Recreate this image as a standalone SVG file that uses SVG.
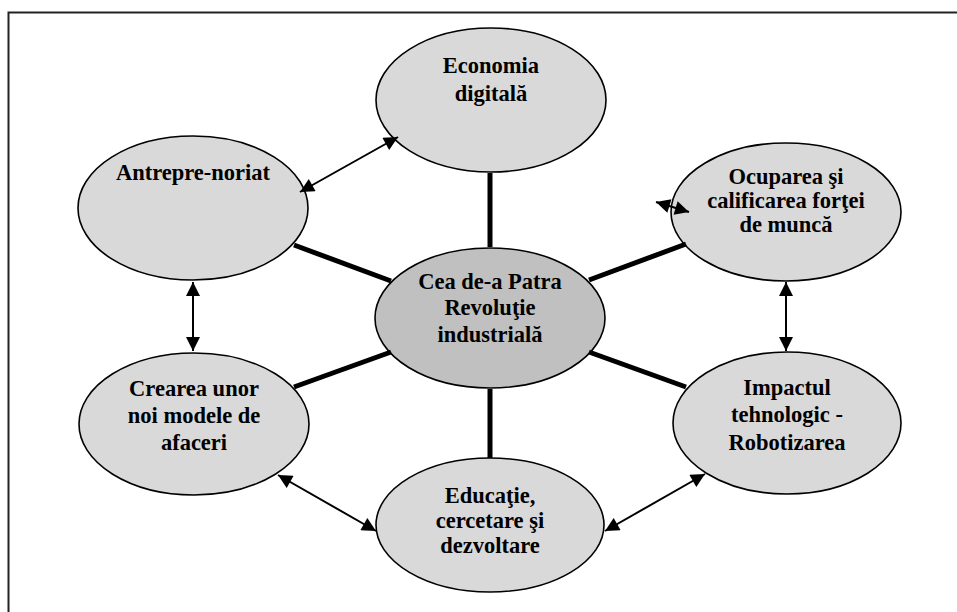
<svg xmlns="http://www.w3.org/2000/svg" width="957" height="612" viewBox="0 0 957 612">
<style>
.node ellipse{fill:#d9d9d9;stroke:#000;stroke-width:1.6}
#center ellipse{fill:#c0c0c0}
.node text{font-family:"Liberation Serif","Times New Roman",serif;font-weight:bold;font-size:22.5px;text-anchor:middle;fill:#000}
.spoke{stroke:#000;stroke-width:5;fill:none}
.arrow{stroke:#000;stroke-width:2;fill:none;marker-start:url(#ah);marker-end:url(#ah)}
</style>
<defs>
<marker id="ah" viewBox="0 0 10 10" refX="10" refY="5" markerUnits="userSpaceOnUse" markerWidth="16" markerHeight="14" orient="auto-start-reverse">
<path d="M0,0 L10,5 L0,10 z" fill="#000"/>
</marker>
</defs>
<rect x="8.5" y="12.5" width="960" height="610" fill="#fff" stroke="#222" stroke-width="2"/>
<g id="economia" class="node">
<ellipse cx="491" cy="100" rx="115" ry="72"/>
<text x="491" y="73">Economia</text>
<text x="491" y="101">digitală</text>
</g>
<g id="antreprenoriat" class="node">
<ellipse cx="193" cy="208" rx="115" ry="72"/>
<text x="193" y="180">Antrepre-noriat</text>
</g>
<g id="ocuparea" class="node">
<ellipse cx="786" cy="212" rx="115" ry="69"/>
<text x="786" y="184">Ocuparea şi</text>
<text x="786" y="208">calificarea forţei</text>
<text x="786" y="232">de muncă</text>
</g>
<g id="center" class="node">
<ellipse cx="490" cy="318" rx="115" ry="70"/>
<text x="490" y="289">Cea de-a Patra</text>
<text x="490" y="315">Revoluţie</text>
<text x="490" y="342">industrială</text>
</g>
<g id="crearea" class="node">
<ellipse cx="194" cy="424" rx="115" ry="71"/>
<text x="194" y="396">Crearea unor</text>
<text x="194" y="423">noi modele de</text>
<text x="194" y="450">afaceri</text>
</g>
<g id="impactul" class="node">
<ellipse cx="787" cy="423" rx="114" ry="71"/>
<text x="787" y="395">Impactul</text>
<text x="787" y="422">tehnologic -</text>
<text x="787" y="450">Robotizarea</text>
</g>
<g id="educatie" class="node">
<ellipse cx="490" cy="525" rx="114" ry="67"/>
<text x="490" y="503">Educaţie,</text>
<text x="490" y="528">cercetare şi</text>
<text x="490" y="553">dezvoltare</text>
</g>
<g id="connectors">
<line class="spoke" x1="490" y1="173" x2="490" y2="247"/>
<line class="spoke" x1="490" y1="389" x2="490" y2="458"/>
<line class="spoke" x1="294" y1="245" x2="391" y2="281"/>
<line class="spoke" x1="589" y1="280" x2="686" y2="244"/>
<line class="spoke" x1="294" y1="387" x2="391" y2="352"/>
<line class="spoke" x1="589" y1="352" x2="686" y2="387"/>
<path class="arrow" d="M300,192 L398,137"/>
<path class="arrow" d="M193,282 L193,351"/>
<path class="arrow" d="M786,282 L786,351"/>
<path class="arrow" d="M278,475 L376,531"/>
<path class="arrow" d="M605,531 L705,474"/>
<path class="arrow" d="M656,202 L689,212"/>
</g>
</svg>
